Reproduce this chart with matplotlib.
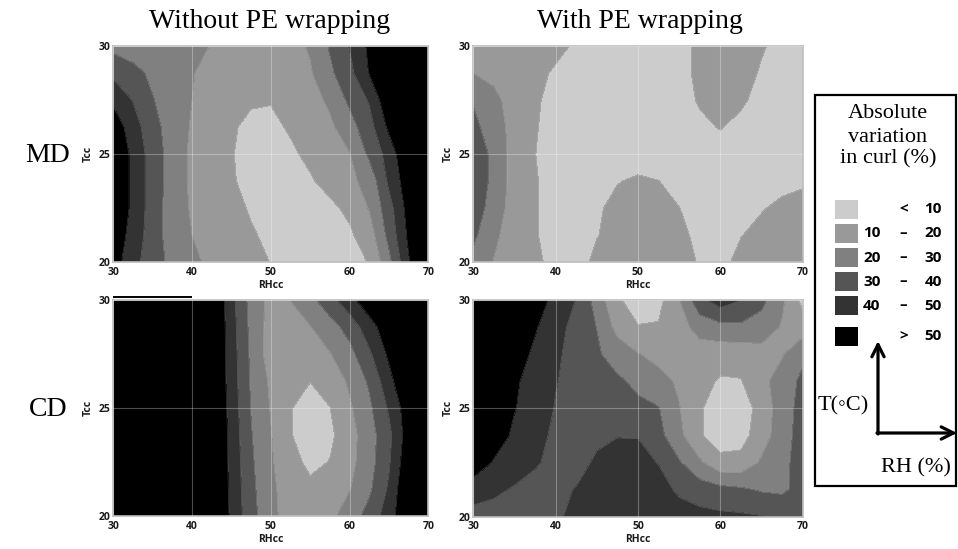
import numpy as np
import matplotlib
matplotlib.use("Agg")
import matplotlib.pyplot as plt
from matplotlib.patches import Rectangle

# Relative humidity (columns) and temperature (rows) of the response grids
rh = [30, 32.5, 35, 37.5, 40, 42.5, 45, 47.5, 50, 52.5, 55, 57.5, 60, 62.5, 65, 67.5, 70]
temp = [30, 28.75, 27.5, 26.25, 25, 23.75, 22.5, 21.25, 20]

# Absolute variation in curl (%), MD, without PE wrapping
md_without_pe = [
    [27, 25, 24, 23, 22, 19.7, 18, 16, 15, 17, 21, 31, 40.5, 52, 60, 65, 68],
    [37.5, 33, 28, 24, 20.5, 17, 15, 13, 13, 15, 19, 28, 37, 50.5, 58, 64, 68],
    [48, 39.5, 30.5, 25, 20, 16, 13, 11, 10.5, 12, 16, 22, 32, 41, 58, 64, 68],
    [56, 45, 33, 26, 19, 15, 11, 8, 8, 11, 15, 18, 26, 36, 52, 62, 67],
    [58, 48, 35, 26, 18, 14, 10.5, 7, 6, 8.5, 12, 15, 19.5, 32, 44, 60, 66],
    [58, 48, 35, 26, 18, 14, 11, 7, 5, 5, 9, 13, 18, 23, 42, 56, 64],
    [58, 48, 35, 25, 19, 16, 13, 9, 6, 5, 5, 8, 12, 20.5, 36, 54, 62],
    [57, 46, 35, 25, 20, 17, 14, 11, 8, 6, 5, 6, 8.5, 15, 33, 52, 62],
    [55, 43, 35, 27, 22, 18, 15, 12.5, 9.8, 7, 5, 5, 6, 10.5, 27, 49, 64],
]

# MD, with PE wrapping
md_with_pe = [
    [19, 17, 15, 14, 12, 9, 7, 6, 5, 5, 7, 12, 15, 15, 11, 7, 5],
    [20, 17, 15, 12, 9, 7, 6, 5, 5, 5, 7, 12, 15, 14, 9, 6, 5],
    [29, 23, 15, 11.5, 6.5, 5, 5, 5, 5, 5, 6, 11, 14, 12, 6, 5, 5],
    [33, 24, 17, 11, 5, 5, 5, 5, 5, 5, 5, 8, 10.5, 7, 5, 5, 5],
    [38, 27, 16, 10.2, 5, 5, 5, 5, 5, 5, 5, 5, 6, 5, 5, 5, 5],
    [38, 27, 16, 11, 5, 5, 5, 9.5, 11.5, 10.2, 6, 5, 5, 5, 5, 6, 8],
    [35, 26, 15, 11, 5, 6, 8.5, 13, 15, 14, 10.2, 6, 5, 6, 9, 13, 15],
    [32, 22, 15, 11, 5, 6, 9.5, 14, 16, 16, 13, 7, 5, 9.5, 14, 16, 17],
    [27, 19.5, 15, 12, 7, 5, 13, 16, 17, 17, 15, 9, 6, 14, 16, 17, 18],
]

# CD, without PE wrapping
cd_without_pe = [
    [64, 64, 64, 64, 63, 62, 43.3, 26.4, 17, 20.2, 27.2, 36, 46.8, 56, 62, 65, 66],
    [64, 64, 64, 64, 63, 62.2, 44.3, 27.3, 16, 15, 19.6, 25.9, 33.75, 45.9, 56, 62, 65],
    [64, 64, 64, 63, 63, 62, 44.8, 28.1, 15, 13, 14, 19.5, 26.8, 38.2, 52, 60, 64],
    [64, 64, 64, 63, 63, 62.1, 45.3, 28.75, 18.3, 11.5, 10.2, 13, 21.7, 31.5, 46.5, 61, 64],
    [64, 64, 64, 63, 63, 62.7, 46, 29.6, 19.4, 10.5, 6, 9.8, 18.6, 28, 41.2, 55.9, 62],
    [64, 64, 64, 63, 63, 63, 46.7, 30.6, 20.5, 10.5, 5.5, 8, 16.2, 25.8, 37.4, 55.4, 62],
    [64, 64, 64, 63, 63, 62.2, 47.3, 31.6, 21.2, 13, 8, 10.3, 17.1, 26, 38.8, 57.7, 62],
    [64, 64, 64, 63, 63, 62.5, 47.6, 32.5, 22.2, 15, 12, 13, 19.5, 28.2, 41.5, 60.8, 63],
    [64, 64, 64, 63, 63, 63.3, 48.2, 33.5, 23, 15, 14, 17.5, 25, 33.6, 45.3, 60, 63],
]

# CD, with PE wrapping
cd_with_pe = [
    [65, 62, 58, 54, 47.7, 39.7, 25.8, 11.5, 5, 7, 19.5, 37, 45, 40.3, 32.5, 22, 7],
    [64, 60, 56, 51, 43.7, 36.7, 29.8, 16.6, 10.5, 10.8, 16, 24, 27, 28, 26, 19, 15],
    [63, 59, 55, 48, 41.7, 36.3, 31.2, 25.9, 20.4, 17, 16, 15, 14, 14, 16, 19, 28],
    [62, 58, 51.5, 45.9, 40.4, 37.3, 34.4, 31.5, 27.9, 23.4, 18.5, 13, 9, 9.5, 17, 25, 32],
    [62, 57, 50.5, 44.8, 39.5, 37.5, 35.5, 33.5, 32, 30.5, 20.5, 10.8, 6, 6, 13, 26, 33],
    [61, 56, 47.9, 42.5, 38.5, 37, 38, 39.5, 39.5, 33, 22.5, 11, 5, 6.5, 15, 26, 34],
    [57, 49, 45.2, 41, 37.5, 36.5, 41.5, 45, 44, 39.5, 31, 21.5, 13, 13, 21.5, 27.5, 34],
    [44, 42, 39, 37, 37.5, 40.5, 46, 47, 47, 44.5, 38, 35, 33, 31.5, 29, 28.5, 33],
    [37, 36, 36, 37, 38.5, 42.5, 46, 48, 48, 47, 45, 43, 42, 41.5, 40.5, 37, 36],
]

level_edges = [0, 10, 20, 30, 40, 50, 100]
band_colors = ["#cccccc", "#999999", "#808080", "#555555", "#333333", "#000000"]
band_low = ["", "10", "20", "30", "40", ""]
band_high = ["10", "20", "30", "40", "50", "50"]
band_sign = ["<", "\u2013", "\u2013", "\u2013", "\u2013", ">"]

column_titles = ["Without PE wrapping", "With PE wrapping"]
row_titles = ["MD", "CD"]
x_ticks = [30, 40, 50, 60, 70]
y_ticks = [20, 25, 30]

SERIF = ["Liberation Serif", "DejaVu Sans"]
plt.rcParams["font.family"] = ["Open Sans", "DejaVu Sans"]

W, H = 958, 549
fig = plt.figure(figsize=(W / 100, H / 100), dpi=100)


def px_box(left, top, right, bottom):
    return [left / W, 1 - bottom / H, (right - left) / W, (bottom - top) / H]


panels = [
    (md_without_pe, px_box(113.3, 46, 428.3, 262.3)),
    (md_with_pe, px_box(473.3, 46, 802.5, 262.3)),
    (cd_without_pe, px_box(113.3, 300, 428.3, 516.2)),
    (cd_with_pe, px_box(473.3, 300, 802.7, 516.7)),
]

X, Y = np.meshgrid(rh, temp)
axes = []
for grid, box in panels:
    ax = fig.add_axes(box)
    Z = np.array(grid, dtype=float)
    ax.contourf(X, Y, Z, levels=level_edges, colors=band_colors)
    ax.contour(X, Y, Z, levels=level_edges[1:-1], colors="white",
               linewidths=0.5, alpha=0.22)
    ax.set_xlim(30, 70)
    ax.set_ylim(20, 30)
    ax.set_xticks(x_ticks)
    ax.set_yticks(y_ticks)
    ax.grid(True, color="white", alpha=0.3, linewidth=0.8)
    ax.set_axisbelow(False)
    ax.tick_params(length=0, labelsize=7.5, colors="#1a1a1a")
    ax.tick_params(axis="x", pad=3.2)
    ax.tick_params(axis="y", pad=2.2)
    for lbl in ax.get_xticklabels() + ax.get_yticklabels():
        lbl.set_fontweight("bold")
    ax.set_xlabel("RHcc", fontsize=7.5, fontweight="bold", labelpad=1.5,
                  color="#1a1a1a")
    ax.set_ylabel("Tcc", fontsize=7.5, fontweight="bold", labelpad=3.5,
                  color="#1a1a1a")
    for sp in ax.spines.values():
        sp.set_color("#bdbdbd")
        sp.set_linewidth(1.2)
    axes.append(ax)

# short dark rule along the top of the CD panel
axes[2].plot([30, 40], [30.12, 30.12], color="black", lw=1.4,
             clip_on=False, zorder=6, solid_capstyle="butt")

# Overlay in pixel coordinates for titles and the key
ov = fig.add_axes([0, 0, 1, 1], zorder=10)
ov.set_xlim(0, W)
ov.set_ylim(H, 0)
ov.axis("off")

ov.text(270, 22, column_titles[0], ha="center", va="center", family=SERIF, fontsize=20)
ov.text(640, 22, column_titles[1], ha="center", va="center", family=SERIF, fontsize=20)
ov.text(48, 156, row_titles[0], ha="center", va="center", family=SERIF, fontsize=20)
ov.text(48, 410, row_titles[1], ha="center", va="center", family=SERIF, fontsize=20)

# Key box
ov.add_patch(Rectangle((815, 95), 141, 391, fill=False, edgecolor="black", lw=1.6))
for txt, y in [("Absolute", 114), ("variation", 137), ("in curl (%)", 159)]:
    ov.text(888, y, txt, ha="center", va="center", family=SERIF, fontsize=16)

row_y = [209, 233, 257.5, 281.5, 305.5, 336.5]
for i, cy in enumerate(row_y):
    ov.add_patch(Rectangle((835, cy - 9.5), 23, 19, facecolor=band_colors[i],
                           edgecolor="none"))
    kw = dict(va="center", fontsize=11, fontweight="bold", color="black")
    if band_low[i]:
        ov.text(863, cy, band_low[i], ha="left", **kw)
    ov.text(903.5, cy, band_sign[i], ha="center", **kw)
    ov.text(942, cy, band_high[i], ha="right", **kw)

# Axis-direction arrows
arrow = dict(arrowstyle="->", lw=2.3, color="black", mutation_scale=22,
             shrinkA=0, shrinkB=0)
ov.annotate("", xy=(878, 341), xytext=(878, 434), arrowprops=arrow)
ov.annotate("", xy=(957, 433), xytext=(877, 433), arrowprops=arrow)
ov.text(843, 406, "T(\u25e6C)", ha="center", va="center", family=SERIF, fontsize=16)
ov.text(916, 468, "RH (%)", ha="center", va="center", family=SERIF, fontsize=16)

fig.savefig("out.png", dpi=100)
